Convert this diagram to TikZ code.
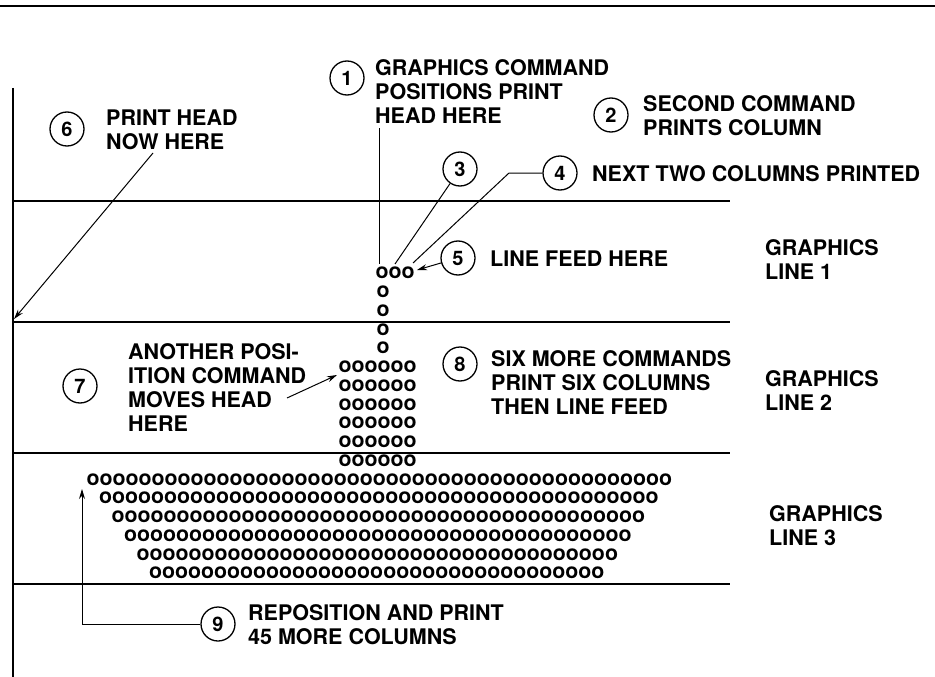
\documentclass[tikz,border=0pt]{standalone}
\usepackage{fontspec}
\setmainfont{TeX Gyre Heros}
\usetikzlibrary{arrows.meta}
\newcommand\orowof[1]{\ifnum#1>0 o\expandafter\orowof\expandafter{\the\numexpr#1-1\relax}\fi}
\begin{document}
\begin{tikzpicture}[x=1pt,y=-1pt,
  rule/.style={line width=1.2pt},
  num/.style={circle,draw,line width=1.3pt,minimum size=34pt,inner sep=0pt,font=\fontsize{20}{20}\selectfont\bfseries},
  lbl/.style={anchor=north west,inner sep=0pt,align=left,font=\fontsize{21.5}{24}\selectfont\bfseries},
  dots/.style={anchor=west,inner sep=0pt,font=\fontsize{21.3}{21.3}\selectfont\bfseries},
  conn/.style={line width=1pt},
  arr/.style={line width=1pt,-{Stealth[length=10pt,width=6pt]}}]
\useasboundingbox (0,0) rectangle (935,677);
% frame lines
\draw[line width=1.6pt] (0,6) -- (935,6);
\draw[rule] (13,88) -- (13,677);
\draw[rule] (13,201) -- (730,201);
\draw[rule] (13,322) -- (730,322);
\draw[rule] (13,453) -- (730,453);
\draw[rule] (13,584) -- (730,584);
% numbered circles
\node[num] (c1) at (347,78) {1};
\node[num] (c2) at (611,115) {2};
\node[num] (c3) at (460,169) {3};
\node[num] (c4) at (560,173) {4};
\node[num] (c5) at (458,258) {5};
\node[num] (c6) at (67,129) {6};
\node[num] (c7) at (80,386) {7};
\node[num] (c8) at (460,364) {8};
\node[num] (c9) at (218,624) {9};
% labels
\node[lbl] (t1) at (375,59.7) {GRAPHICS COMMAND\\POSITIONS PRINT\\HEAD HERE};
\node[lbl] (t2) at (643,95.2) {SECOND COMMAND\\PRINTS COLUMN};
\node[lbl] (t4) at (592,165.2) {NEXT TWO COLUMNS PRINTED};
\node[lbl] (t5) at (490,250.2) {LINE FEED HERE};
\node[lbl] (t6) at (106,109.2) {PRINT HEAD\\NOW HERE};
\node[lbl] (t7) at (128,343.2) {ANOTHER POSI-\\ITION COMMAND\\MOVES HEAD\\HERE};
\node[lbl] (t8) at (491,350.2) {SIX MORE COMMANDS\\PRINT SIX COLUMNS\\THEN LINE FEED};
\node[lbl] (t9) at (248,604.2) {REPOSITION AND PRINT\\45 MORE COLUMNS};
\node[lbl] (g1) at (765,239.2) {GRAPHICS\\LINE 1};
\node[lbl] (g2) at (765,370.2) {GRAPHICS\\LINE 2};
\node[lbl] (g3) at (769,505.2) {GRAPHICS\\LINE 3};
% printed dots
\node[dots] (r0) at (375.3,273) {ooo};
\foreach \k in {1,...,4}{\node[dots] (s\k) at (376.3,{273+18.75*\k}) {o};}
\foreach \k in {0,...,5}{\node[dots] (b\k) at (338.3,{366.75+18.75*\k}) {oooooo};}
\foreach \k [evaluate=\k as \n using int(45-2*\k)] in {0,...,5}{
  \node[dots] (w\k) at ({86.3+12.5*\k},{479.25+18.75*\k}) {\orowof{\n}};}
% connectors
\coordinate (p1) at (379,128);
\coordinate (e1) at (379,264);
\draw[conn] (p1) -- (e1);
\coordinate (e3) at (395,264);
\draw[conn] (c3) -- (e3);
\coordinate (k4) at (509,173);
\coordinate (e4) at (413,263);
\draw[conn] (c4) -- (k4) -- (e4);
\coordinate (e5) at (417,270);
\draw[arr] (c5) -- (e5);
\coordinate (s6) at (153,153);
\coordinate (e6) at (14,319);
\draw[arr] (s6) -- (e6);
\coordinate (s7) at (287,398);
\coordinate (e7) at (337,375);
\draw[arr] (s7) -- (e7);
\coordinate (k9) at (82,624);
\coordinate (e9) at (82,489);
\draw[arr] (c9) -- (k9) -- (e9);
\end{tikzpicture}
\end{document}
